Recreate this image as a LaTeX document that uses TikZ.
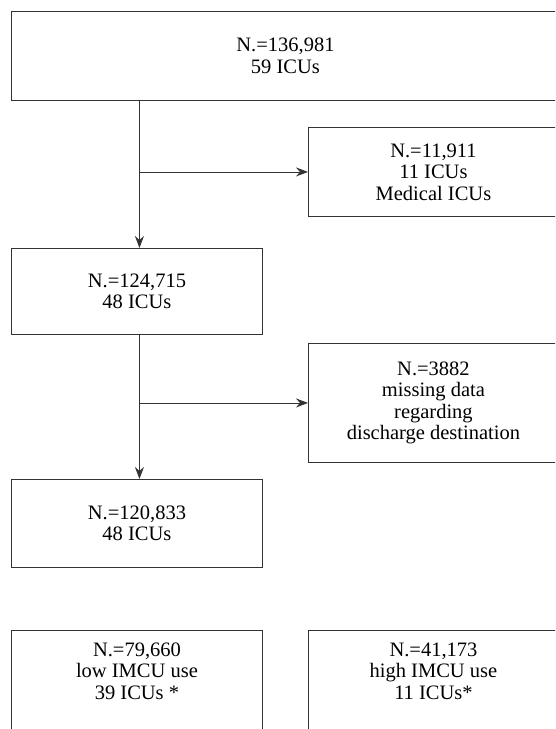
\documentclass[tikz,border=0pt]{standalone}
\usepackage{fontspec}
\setmainfont{Liberation Serif}
\usetikzlibrary{arrows.meta}
\begin{document}
\begin{tikzpicture}[x=1pt,y=-1pt,
  box/.style={draw=black!80, line width=0.9pt, rectangle, inner sep=0pt, align=center,
    font=\fontsize{20.5}{21.5}\selectfont},
  txt/.style={inner sep=0pt, align=center, font=\fontsize{20.5}{21.5}\selectfont},
  conn/.style={draw=black!80, line width=0.9pt},
  arr/.style={conn, -{Stealth[length=12pt,width=9pt,inset=4pt]}}]
\useasboundingbox (0,0) rectangle (555,729);
\clip (0,0) rectangle (555,729);
\fill[white] (0,0) rectangle (555,729);
% boxes
\node[box, minimum width=548pt, minimum height=89pt, anchor=north west] (n0) at (11,11) {N.=136,981\\59 ICUs};
\node[box, minimum width=250pt, minimum height=89pt, anchor=north west] (m1) at (308,127) {N.=11,911\\11 ICUs\\Medical ICUs};
\node[box, minimum width=251pt, minimum height=86pt, anchor=north west] (n1) at (11,248) {N.=124,715\\48 ICUs};
\node[box, minimum width=250pt, minimum height=119pt, anchor=north west] (m2) at (308,343) {N.=3882\\missing data\\regarding\\discharge destination};
\node[box, minimum width=251pt, minimum height=88pt, anchor=north west] (n2) at (11,479) {N.=120,833\\48 ICUs};
\node[box, minimum width=251pt, minimum height=130pt, anchor=north west] (lo) at (11,630) {};
\node[box, minimum width=250pt, minimum height=130pt, anchor=north west] (hi) at (308,630) {};
\node[txt] (lot) at ([yshift=-41pt]lo.north) {N.=79,660\\low IMCU use\\39 ICUs *};
\node[txt] (hit) at ([yshift=-41pt]hi.north) {N.=41,173\\high IMCU use\\11 ICUs*};
% connectors
\coordinate (v1) at ([xshift=2.5pt]n1.north |- n0.south);
\coordinate (v2) at ([xshift=2.5pt]n1.north);
\coordinate (v3) at ([xshift=2.5pt]n1.south);
\coordinate (v4) at ([xshift=2.5pt]n2.north);
\draw[arr] (v1) -- (v2);
\draw[arr] (v1 |- m1.west) -- (m1.west);
\draw[arr] (v3) -- (v4);
\draw[arr] (v3 |- m2.west) -- (m2.west);
\end{tikzpicture}
\end{document}
